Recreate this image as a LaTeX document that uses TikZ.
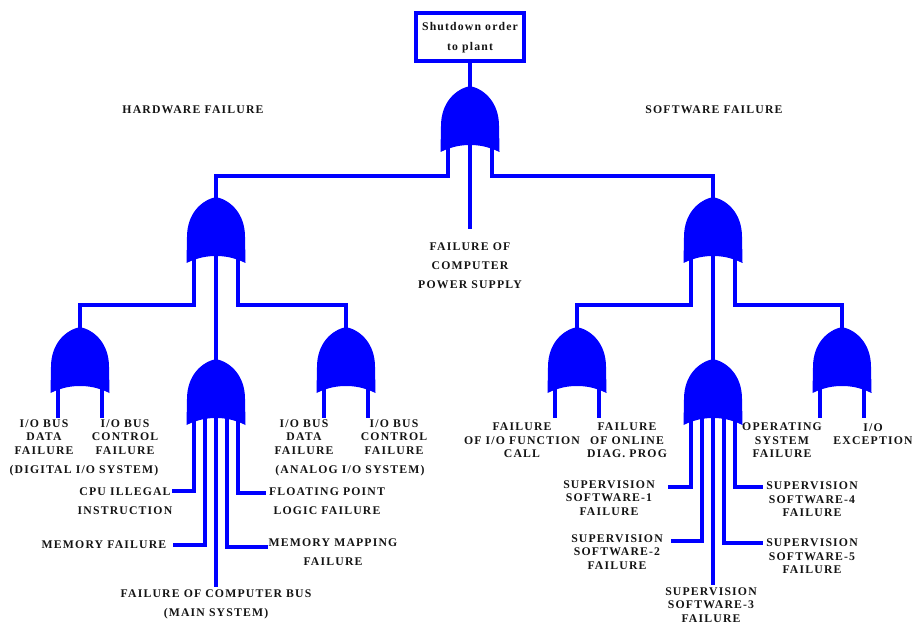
\documentclass[tikz,border=0pt]{standalone}
\usepackage{fontspec}
\setmainfont{Liberation Serif}[LetterSpace=10]
\usetikzlibrary{calc}
\definecolor{wireblue}{RGB}{0,0,255}
\tikzset{
  x=0.75pt,y=-0.75pt,
  gate/.style={anchor=north,inner sep=0pt,outer sep=0pt,minimum width=43.5pt,minimum height=49.5pt},
  wire/.style={draw=wireblue,line width=2.4pt,line join=miter},
  fat/.style={draw=wireblue,line width=3.6pt},
  lbl/.style={font=\bfseries\fontsize{8.8pt}{10.1pt}\selectfont,align=center,inner sep=0pt,text=black!92},
  lblw/.style={font=\bfseries\fontsize{8.8pt}{14.2pt}\selectfont,align=center,inner sep=0pt,text=black!92},
  topbox/.style={draw=wireblue,line width=3pt,minimum width=80.5pt,minimum height=36pt,inner sep=0pt,
    font=\bfseries\fontsize{8.8pt}{15pt}\selectfont,align=center,text=black!92},
}
\begin{document}
\begin{tikzpicture}
\useasboundingbox (0,0) rectangle (912,623);
% boxes and gates
\node[topbox] (order) at (470,37.5) {\raisebox{1pt}{Shutdown order}\\\raisebox{1pt}{to plant}};
\node[gate] (gT) at (470,86) {};
\node[gate] (gL) at (216,197) {};
\node[gate] (gR) at (713,197) {};
\node[gate] (gL1) at (80,327) {};
\node[gate] (gLB) at (216,359) {};
\node[gate] (gL3) at (346,327) {};
\node[gate] (gR1) at (577,327) {};
\node[gate] (gRB) at (713,359) {};
\node[gate] (gR3) at (842,327) {};
\foreach \g in {gT,gL,gR,gL1,gLB,gL3,gR1,gRB,gR3}{
  \begin{scope}[shift={(\g.north)}]
  \fill[wireblue] (0,0) .. controls (-14,3) and (-29,16) .. (-29,40)
      -- (-29.5,66) .. controls (-18,60.5) and (-9,59) .. (0,59)
      .. controls (9,59) and (18,60.5) .. (29.5,66)
      -- (29,40) .. controls (29,16) and (14,3) .. (0,0) -- cycle;
  \end{scope}
}
% labels
\node[lbl] (hw) at (193,110) {HARDWARE FAILURE};
\node[lbl] (sw) at (714,109.5) {SOFTWARE FAILURE};
\node[lblw] (pwr) at (470,265.5) {FAILURE OF\\COMPUTER\\POWER SUPPLY};
\node[lbl] (a1) at (44,437) {I/O BUS\\DATA\\FAILURE};
\node[lbl] (a2) at (125,437) {I/O BUS\\CONTROL\\FAILURE};
\node[lbl] (dig) at (84,470.5) {(DIGITAL I/O SYSTEM)};
\node[lbl] (a3) at (304,437) {I/O BUS\\DATA\\FAILURE};
\node[lbl] (a4) at (394,437) {I/O BUS\\CONTROL\\FAILURE};
\node[lbl] (ana) at (350,470.5) {(ANALOG I/O SYSTEM)};
\node[lblw] (cpu) at (125,501.5) {CPU ILLEGAL\\INSTRUCTION};
\node[lbl] (mem) at (104,545) {MEMORY FAILURE};
\node[lblw] (bus) at (216,604.5) {FAILURE OF COMPUTER BUS\\(MAIN SYSTEM)};
\node[lblw] (fp) at (327,501.5) {FLOATING POINT\\LOGIC FAILURE};
\node[lblw] (mm) at (333,552.5) {MEMORY MAPPING\\FAILURE};
\node[lbl] (b1) at (522,440.5) {FAILURE\\OF I/O FUNCTION\\CALL};
\node[lbl] (b2) at (627,440.5) {FAILURE\\OF ONLINE\\DIAG. PROG};
\node[lbl] (os) at (782,440.5) {OPERATING\\SYSTEM\\FAILURE};
\node[lbl] (ex) at (873,434) {I/O\\EXCEPTION};
\node[lbl] (s1) at (609,498) {SUPERVISION\\SOFTWARE-1\\FAILURE};
\node[lbl] (s2) at (617,552) {SUPERVISION\\SOFTWARE-2\\FAILURE};
\node[lbl] (s3) at (711,605) {SUPERVISION\\SOFTWARE-3\\FAILURE};
\node[lbl] (s4) at (812,499.5) {SUPERVISION\\SOFTWARE-4\\FAILURE};
\node[lbl] (s5) at (812,556.5) {SUPERVISION\\SOFTWARE-5\\FAILURE};
% free ends of connectors
\coordinate (eCpu) at (172,491);
\coordinate (eMem) at (173,545);
\coordinate (eBus) at (216,587);
\coordinate (eMap) at (268,547);
\coordinate (eFlo) at (266,493);
\coordinate (eS1) at (668,487);
\coordinate (eS2) at (671,541);
\coordinate (eS3) at (713,585);
\coordinate (eS4) at (763,543);
\coordinate (eS5) at (763,487);
\coordinate (ePwr) at (470,229);
% top
\draw[wire] (order.south) -- ($(gT.north)+(0,3)$);
\draw[wire] ($(gT.south)+(-22,-10)$) |- ($(gL.north)+(32,-21)$) -- ($(gL.north)+(0,-21)$) -- ($(gL.north)+(0,3)$);
\draw[wire] ($(gT.south)+(22,-10)$) |- ($(gR.north)+(-32,-21)$) -- ($(gR.north)+(0,-21)$) -- ($(gR.north)+(0,3)$);
\draw[wire] ($(gT.south)+(0,-10)$) -- ($(gT.south)+(0,24)$);
\draw[fat] ($(gT.south)+(0,23)$) -- (ePwr);
% left branch
\draw[wire] ($(gL.south)+(-22,-10)$) -- ($(gL.south)+(-22,25)$);
\draw[fat] ($(gL.south)+(-22,24)$) -- ($(gL.south)+(-22,43.5)$);
\draw[wire] ($(gL.south)+(-21,42)$) -| ($(gL1.north)+(0,3)$);
\draw[wire] ($(gL.south)+(22,-10)$) -- ($(gL.south)+(22,25)$);
\draw[fat] ($(gL.south)+(22,24)$) -- ($(gL.south)+(22,43.5)$);
\draw[wire] ($(gL.south)+(21,42)$) -| ($(gL3.north)+(0,3)$);
\draw[wire] ($(gL.south)+(0,-10)$) -- ($(gL.south)+(0,25)$);
\draw[fat] ($(gL.south)+(0,24)$) -- ($(gLB.north)+(0,-23)$);
\draw[wire] ($(gLB.north)+(0,-24)$) -- ($(gLB.north)+(0,3)$);
% right branch
\draw[wire] ($(gR.south)+(-22,-10)$) -- ($(gR.south)+(-22,25)$);
\draw[fat] ($(gR.south)+(-22,24)$) -- ($(gR.south)+(-22,43.5)$);
\draw[wire] ($(gR.south)+(-21,42)$) -| ($(gR1.north)+(0,3)$);
\draw[wire] ($(gR.south)+(22,-10)$) -- ($(gR.south)+(22,25)$);
\draw[fat] ($(gR.south)+(22,24)$) -- ($(gR.south)+(22,43.5)$);
\draw[wire] ($(gR.south)+(21,42)$) -| ($(gR3.north)+(0,3)$);
\draw[wire] ($(gR.south)+(0,-10)$) -- ($(gR.south)+(0,25)$);
\draw[fat] ($(gR.south)+(0,24)$) -- ($(gRB.north)+(0,-23)$);
\draw[wire] ($(gRB.north)+(0,-24)$) -- ($(gRB.north)+(0,3)$);
% inputs of the small gates
\foreach \g in {gL1,gL3,gR1,gR3}{
  \draw[fat] ($(\g.south)+(-22,-10)$) -- ($(\g.south)+(-22,25)$);
  \draw[fat] ($(\g.south)+(22,-10)$) -- ($(\g.south)+(22,25)$);
}
% five-input gates: upper fat stubs
\foreach \g in {gLB,gRB}\foreach \d in {-22,-11,0,11,22}{
  \draw[fat] ($(\g.south)+(\d,-10)$) -- ($(\g.south)+(\d,23)$);
}
\draw[wire] ($(gLB.south)+(-22,22)$) |- (eCpu);
\draw[wire] ($(gLB.south)+(-11,22)$) |- (eMem);
\draw[wire] ($(gLB.south)+(0,22)$) -- (eBus);
\draw[wire] ($(gLB.south)+(11,22)$) |- (eMap);
\draw[wire] ($(gLB.south)+(22,22)$) |- (eFlo);
\draw[wire] ($(gRB.south)+(-22,22)$) |- (eS1);
\draw[wire] ($(gRB.south)+(-11,22)$) |- (eS2);
\draw[wire] ($(gRB.south)+(0,22)$) -- (eS3);
\draw[wire] ($(gRB.south)+(11,22)$) |- (eS4);
\draw[wire] ($(gRB.south)+(22,22)$) |- (eS5);
\end{tikzpicture}
\end{document}
